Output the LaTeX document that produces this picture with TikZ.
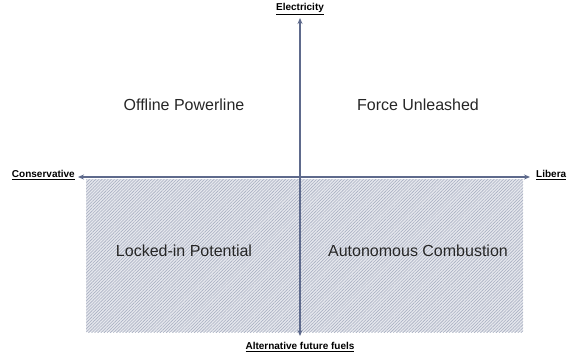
\documentclass[tikz,border=0pt]{standalone}
\usepackage{fontspec}
\setmainfont{Liberation Sans}
\usepackage{tikz}
\usetikzlibrary{arrows.meta,patterns.meta}
\definecolor{axisblue}{HTML}{5E6A8C}
\definecolor{hatchgray}{HTML}{A9B0C2}
\newcommand{\axlab}[1]{\underline{\textbf{#1}}}

\begin{document}
\begin{tikzpicture}[x=1pt,y=-1pt,
    axis/.style={draw=axisblue,line width=1.6pt,{Stealth[length=6pt,width=5pt]}-{Stealth[length=6pt,width=5pt]}},
    axislabel/.style={font=\fontsize{10}{12}\selectfont,inner sep=0pt},
    quadrant/.style={font=\fontsize{16}{19}\selectfont,text=black!85}]
  \useasboundingbox (0,0) rectangle (567,356);
  % lower half: hatched area
  \fill[hatchgray!30] (86,179) rectangle (523,332);
  \fill[pattern={Lines[angle=45,distance=2.2pt,line width=0.6pt]},pattern color=hatchgray] (86,179) rectangle (523,332);
  % axes
  \coordinate (W) at (78,177);
  \coordinate (E) at (530,177);
  \coordinate (N) at (300,18);
  \coordinate (S) at (300,336);
  \draw [axis] (W) -- (E);
  \draw [axis] (N) -- (S);
  % axis labels
  \node [axislabel,anchor=east] (cons) at (75,175) {\axlab{Conservative}};
  \node [axislabel,anchor=west] (lib) at (536,175) {\axlab{Libera}};
  \node [axislabel] (elec) at (300,9) {\axlab{Electricity}};
  \node [axislabel] (alt) at (300,347) {\axlab{Alternative future fuels}};
  % scenarios
  \node [quadrant] (offline) at (184,105) {Offline Powerline};
  \node [quadrant] (force) at (418,105) {Force Unleashed};
  \node [quadrant] (locked) at (184,251) {Locked-in Potential};
  \node [quadrant] (auto) at (418,251) {Autonomous Combustion};
\end{tikzpicture}
\end{document}
